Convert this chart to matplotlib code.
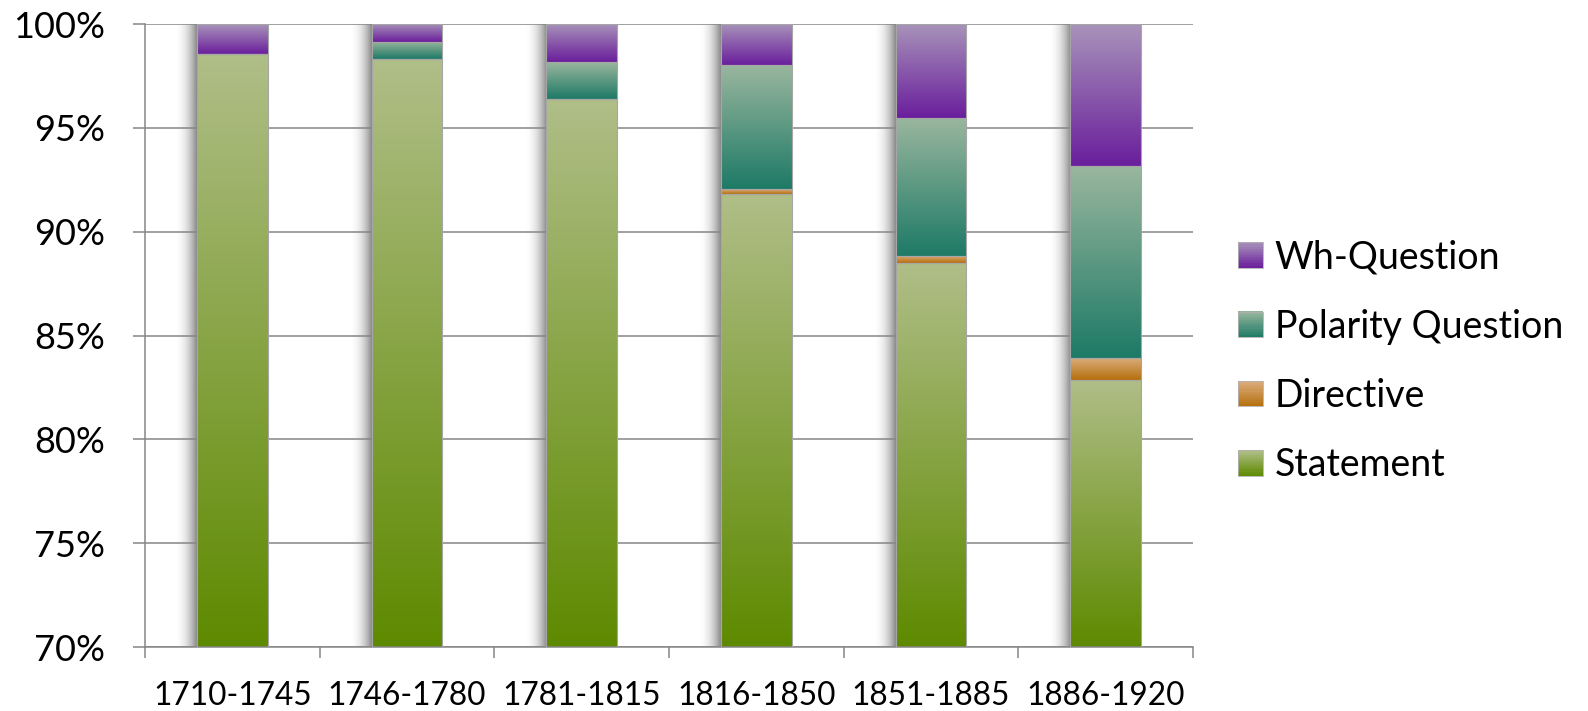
import numpy as np
import matplotlib
matplotlib.use("Agg")
import matplotlib.pyplot as plt
from matplotlib.colors import LinearSegmentedColormap, to_rgb
from matplotlib.patches import Rectangle
from matplotlib.legend_handler import HandlerBase
from matplotlib.ticker import FixedLocator, FuncFormatter, NullFormatter

plt.rcParams['font.family'] = ['Lato', 'DejaVu Sans']

periods = ["1710-1745", "1746-1780", "1781-1815", "1816-1850", "1851-1885", "1886-1920"]
statement = [98.56, 98.30, 96.37, 91.80, 88.48, 82.86]
directive = [0.0, 0.0, 0.0, 0.24, 0.35, 1.07]
polarity = [0.0, 0.83, 1.78, 5.97, 6.64, 9.23]
wh_question = [1.44, 0.87, 1.85, 1.99, 4.53, 6.84]

series_names = ["Statement", "Directive", "Polarity Question", "Wh-Question"]
series_vals = [statement, directive, polarity, wh_question]
# (top colour, bottom colour) of each gradient
grads = [("#b0be88", "#5e8a00"),
         ("#dcae80", "#b5700c"),
         ("#9ab69e", "#1d7a66"),
         ("#a894ba", "#6a1e9c")]

YMIN, YMAX = 70, 100

fig = plt.figure(figsize=(15.88, 7.11), dpi=100)
ax = fig.add_axes([0.0913, 0.0900, 0.7513 - 0.0913, 0.9662 - 0.0900])

x = np.arange(len(periods))
width = 0.405
grad_arr = np.linspace(0, 1, 256).reshape(-1, 1)

bottoms = np.zeros(len(periods))
for name, vals, (ctop, cbot) in zip(series_names, series_vals, grads):
    vals = np.array(vals)
    bars = ax.bar(x, vals, width, bottom=bottoms, facecolor='none',
                  edgecolor='#a6a6a6', linewidth=0.8, zorder=3)
    cmap = LinearSegmentedColormap.from_list(name, [cbot, ctop])
    for b in bars:
        h = b.get_height()
        if h <= 0:
            continue
        y0 = max(b.get_y(), YMIN)
        y1 = b.get_y() + h
        x0 = b.get_x()
        ax.imshow(grad_arr, cmap=cmap, origin='lower', aspect='auto',
                  extent=(x0, x0 + b.get_width(), y0, y1), zorder=2.5,
                  interpolation='bicubic')
    bottoms = bottoms + vals

# soft shadow on the left of each bar
sw = 0.13
ramp = np.linspace(0, 1, 128) ** 2.2
shadow = np.zeros((1, 128, 4))
shadow[..., :3] = 0.45
shadow[0, :, 3] = ramp * 0.85
for xi, tot in zip(x, bottoms):
    x0 = xi - width / 2
    ax.imshow(shadow, aspect='auto', extent=(x0 - sw, x0, YMIN, min(tot, YMAX)),
              zorder=0.5, interpolation='bicubic')

ax.set_xlim(-0.5, len(periods) - 0.5)
ax.set_ylim(YMIN, YMAX)

gray = '#868686'
ax.yaxis.set_major_locator(FixedLocator(np.arange(70, 101, 5)))
ax.yaxis.set_major_formatter(FuncFormatter(lambda v, p: f"{v:.0f}%"))
ax.grid(axis='y', color=gray, linewidth=1.1, zorder=1)
ax.set_axisbelow(True)

ax.xaxis.set_major_locator(FixedLocator(np.arange(-0.5, len(periods), 1.0)))
ax.xaxis.set_major_formatter(NullFormatter())
ax.xaxis.set_minor_locator(FixedLocator(x))
ax.set_xticklabels(periods, minor=True)
ax.tick_params(axis='x', which='major', length=8, width=1.1, color=gray, direction='out')
ax.tick_params(axis='x', which='minor', length=0, pad=24.5, labelsize=22.8)
ax.tick_params(axis='y', which='major', length=9, width=1.1, color=gray, direction='out',
               pad=20, labelsize=26)

for s in ['top', 'right']:
    ax.spines[s].set_visible(False)
for s in ['left', 'bottom']:
    ax.spines[s].set_color(gray)
    ax.spines[s].set_linewidth(1.1)


class GradHandler(HandlerBase):
    def __init__(self, ctop, cbot):
        super().__init__()
        self.ctop, self.cbot = np.array(to_rgb(ctop)), np.array(to_rgb(cbot))

    def create_artists(self, legend, orig_handle, xdescent, ydescent, width, height, fontsize, trans):
        n = 12
        arts = []
        for i in range(n):
            t = (i + 0.5) / n
            c = self.cbot * (1 - t) + self.ctop * t
            r = Rectangle((-xdescent, -ydescent + height * i / n), width, height / n + 0.3,
                          facecolor=c, edgecolor='none', transform=trans)
            arts.append(r)
        arts.append(Rectangle((-xdescent, -ydescent), width, height, facecolor='none',
                              edgecolor='#b0b0b0', linewidth=0.6, transform=trans))
        return arts


handles = []
hmap = {}
for name, (ctop, cbot) in zip(series_names, grads):
    h = Rectangle((0, 0), 1, 1)
    handles.append(h)
    hmap[h] = GradHandler(ctop, cbot)

leg = fig.legend(handles[::-1], series_names[::-1], handler_map=hmap,
                 loc='center left', bbox_to_anchor=(0.7795, 0.492), frameon=False,
                 fontsize=27, handlelength=0.665, handleheight=0.665,
                 handletextpad=0.32, labelspacing=0.89, borderaxespad=0,
                 borderpad=0)

fig.savefig("out.png", dpi=100)
